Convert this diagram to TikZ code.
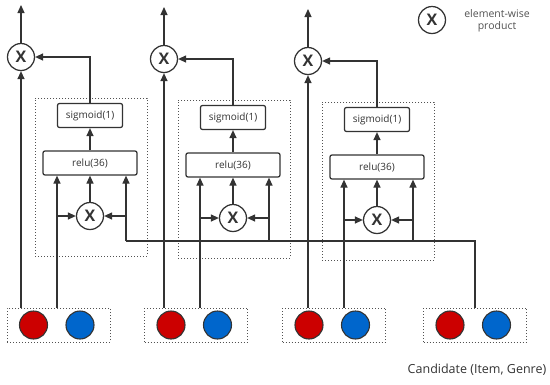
\documentclass[tikz,border=0pt]{standalone}
\usepackage{fontspec}
\setmainfont{Open Sans}
\usetikzlibrary{arrows.meta,positioning,calc}
\definecolor{lineGray}{HTML}{333333}
\definecolor{dotRed}{HTML}{CC0000}
\definecolor{dotBlue}{HTML}{0066CC}
\tikzset{
  every picture/.append style={line width=1.25pt},
  arr/.style={-{Triangle[length=8pt,width=7pt]}, draw=lineGray},
  wire/.style={draw=lineGray}
}

\begin{document}
\begin{tikzpicture}[
  x=1pt, y=-1pt,
  prod/.style  ={circle, draw=lineGray, fill=white, minimum size=27pt, inner sep=0pt,
                 font=\fontsize{16}{16}\selectfont\bfseries, text=lineGray},
  layer/.style ={draw=lineGray, fill=white, rounded corners=2pt, minimum height=24pt,
                 inner sep=0pt, font=\fontsize{10}{11}\selectfont, text=lineGray},
  dotbox/.style={draw=lineGray!85, dotted, line width=1pt, inner sep=0pt},
  emb/.style   ={circle, draw=lineGray, line width=1.1pt, minimum size=28pt, inner sep=0pt},
  note/.style  ={font=\fontsize{10.5}{12}\selectfont, align=center, text=lineGray!85}
]
\useasboundingbox (0,0) rectangle (550,384);

% Bus height for the candidate line
\coordinate (busY) at (0,241);

% Gating blocks: sigmoid over relu over element-wise product
\foreach \n/\cx/\dy in {1/90/0, 2/233/2, 3/377/4}{
  \node[dotbox, minimum width=112pt, minimum height=158pt] (blk\n) at (\cx+1,177+\dy) {};
  \node[layer, minimum width=65pt] (sig\n) at (\cx,115.5+\dy) {sigmoid(1)};
  \node[layer, minimum width=94pt] (relu\n) at (\cx,163+\dy) {relu(36)};
  \node[prod] (mul\n) at (\cx,216+\dy) {X};
  \node[prod] (top\n) at (\cx-69,57+\dy) {X};
  \coordinate (out\n) at (\cx-69,5+\dy);
  \coordinate (inL\n) at (\cx-33,216+\dy);
  \coordinate (inR\n) at (\cx+36,216+\dy);
}

% Embedding pairs (item, genre)
\foreach \n/\bx in {1/58.5, 2/196, 3/334, 4/475}{
  \node[dotbox, minimum width=103pt, minimum height=34pt] (emb\n) at (\bx,325) {};
  \node[emb, fill=dotRed] (item\n) at (\bx-25,325) {};
  \node[emb, fill=dotBlue] (genre\n) at (\bx+21.5,325) {};
}

% Candidate line to every block
\draw[wire, line width=2.6pt] (emb4.north) |- (inR3 |- busY);
\draw[wire] (inR3 |- busY) -- (inR1 |- busY);

% Connectors inside and around each block
\foreach \n in {1,2,3}{
  \draw[arr] (top\n.north) -- (out\n);
  \draw[arr] (top\n |- emb\n.north) -- (top\n);
  \draw[arr] (inL\n |- emb\n.north) -- (inL\n |- relu\n.south);
  \draw[arr] (inL\n) -- (mul\n);
  \draw[arr] (inR\n |- busY) -- (inR\n |- relu\n.south);
  \draw[arr] (inR\n) -- (mul\n);
  \draw[arr] (mul\n) -- (relu\n);
  \draw[arr] (relu\n) -- (sig\n);
  \draw[arr] (sig\n.north) |- (top\n);
}

% Legend and caption
\node[prod] (legX) at (432,20) {X};
\node[note] (legTxt) at (497,21) {element-wise\\product};
\node[font=\fontsize{12.5}{14}\selectfont, text=lineGray] (cand) at (477,370) {Candidate (Item, Genre)};

\end{tikzpicture}
\end{document}
